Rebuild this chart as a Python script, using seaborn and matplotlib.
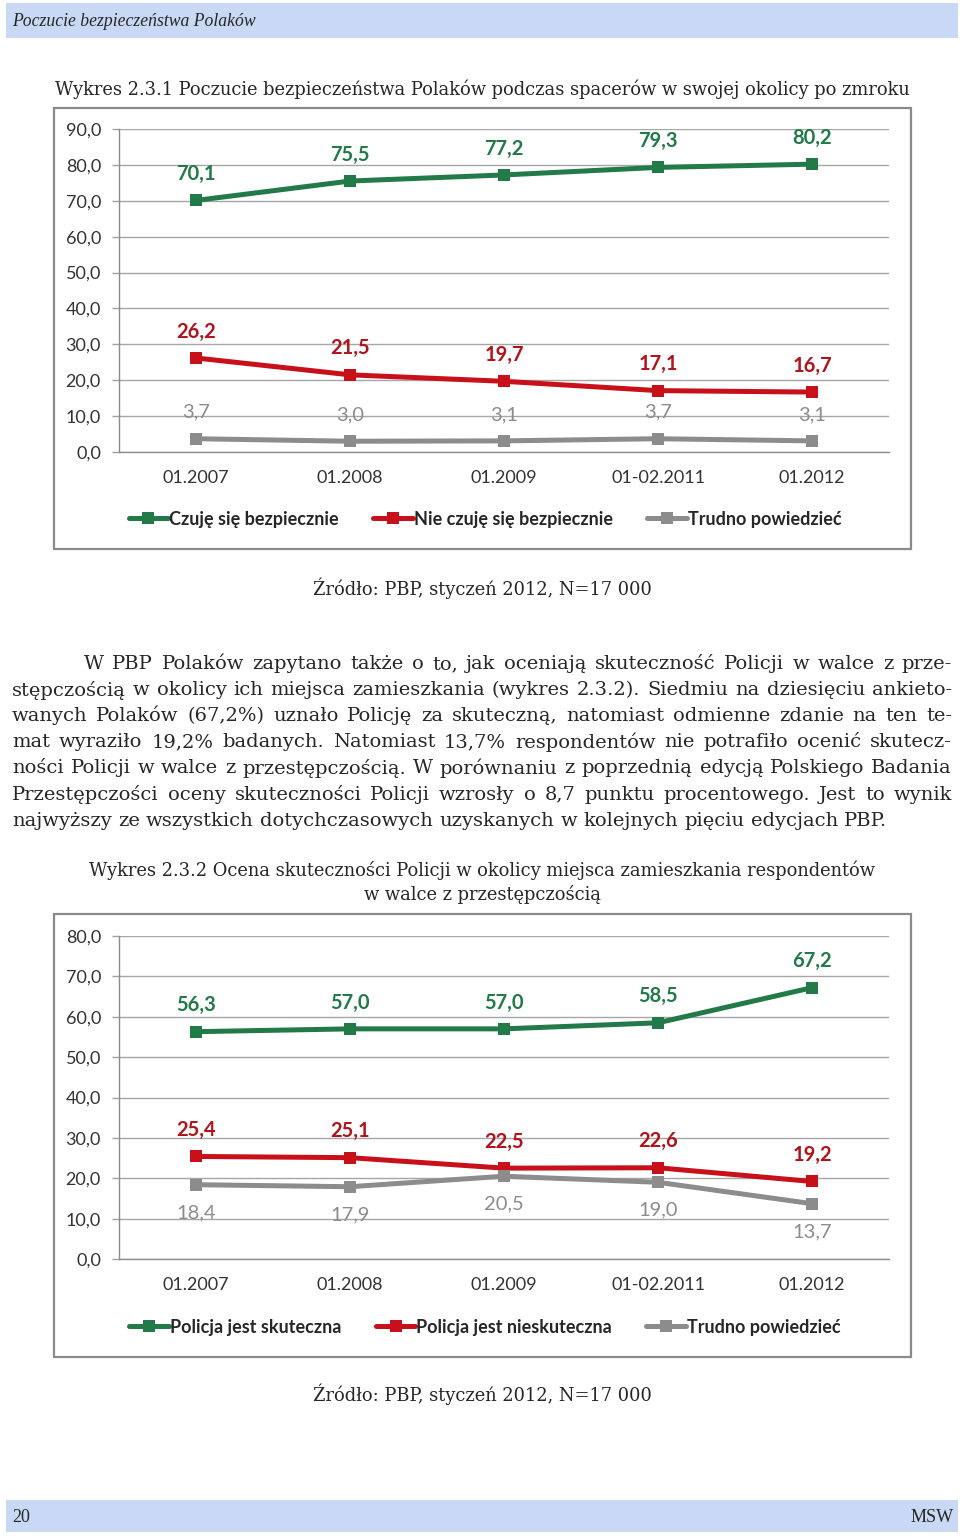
import numpy as np
import pandas as pd
import matplotlib
matplotlib.use("Agg")
import matplotlib.pyplot as plt
import seaborn as sns
from matplotlib.patches import Rectangle
from matplotlib.lines import Line2D

# dane
okresy = ["01.2007", "01.2008", "01.2009", "01-02.2011", "01.2012"]

bezp_tak = [70.1, 75.5, 77.2, 79.3, 80.2]
bezp_nie = [26.2, 21.5, 19.7, 17.1, 16.7]
bezp_trudno = [3.7, 3.0, 3.1, 3.7, 3.1]
serie1 = ["Czuję się bezpiecznie", "Nie czuję się bezpiecznie", "Trudno powiedzieć"]

pol_skut = [56.3, 57.0, 57.0, 58.5, 67.2]
pol_nieskut = [25.4, 25.1, 22.5, 22.6, 19.2]
pol_trudno = [18.4, 17.9, 20.5, 19.0, 13.7]
serie2 = ["Policja jest skuteczna", "Policja jest nieskuteczna", "Trudno powiedzieć"]

kolory = ["#217a48", "#c8101a", "#8c8c8c"]
kolory_etykiet = ["#217a48", "#b3121b", "#8c8c8c"]

naglowek = "Poczucie bezpieczeństwa Polaków"
tytul1 = "Wykres 2.3.1 Poczucie bezpieczeństwa Polaków podczas spacerów w swojej okolicy po zmroku"
tytul2 = ["Wykres 2.3.2 Ocena skuteczności Policji w okolicy miejsca zamieszkania respondentów",
          "w walce z przestępczością"]
zrodlo = "Źródło: PBP, styczeń 2012, N=17 000"
akapit = [
    "W PBP Polaków zapytano także o to, jak oceniają skuteczność Policji w walce z prze-",
    "stępczością w okolicy ich miejsca zamieszkania (wykres 2.3.2). Siedmiu na dziesięciu ankieto-",
    "wanych Polaków (67,2%) uznało Policję za skuteczną, natomiast odmienne zdanie na ten te-",
    "mat wyraziło 19,2% badanych. Natomiast 13,7% respondentów nie potrafiło ocenić skutecz-",
    "ności Policji w walce z przestępczością. W porównaniu z poprzednią edycją Polskiego Badania",
    "Przestępczości oceny skuteczności Policji wzrosły o 8,7 punktu procentowego. Jest to wynik",
    "najwyższy ze wszystkich dotychczasowych uzyskanych w kolejnych pięciu edycjach PBP.",
]

sns.set_style("white")
SANS = ["Lato", "DejaVu Sans"]
SERIF = ["DejaVu Serif"]
TIMES = ["Liberation Serif", "DejaVu Serif"]

W, H = 960, 1538
fig = plt.figure(figsize=(W / 100, H / 100), dpi=100)


def fx(x):
    return x / W


def fy(y):
    return 1 - y / H


def fmt(v):
    return f"{v:.1f}".replace(".", ",")


def wykres(top, bottom, ymax, nazwy, serie, przesuniecia, leg_y, ramka):
    fig.add_artist(Rectangle((fx(54), fy(ramka[1])), (911 - 54) / W, (ramka[1] - ramka[0]) / H,
                             transform=fig.transFigure, fill=False, ec="#8a8a8a", lw=1.6))
    ax = fig.add_axes([fx(119), fy(bottom), (889 - 119) / W, (bottom - top) / H])
    rows = []
    for nazwa, wart in zip(nazwy, serie):
        for i, v in enumerate(wart):
            rows.append((i, v, nazwa))
    df = pd.DataFrame(rows, columns=["x", "v", "seria"])
    sns.lineplot(data=df, x="x", y="v", hue="seria", hue_order=nazwy, palette=kolory,
                 marker="s", markersize=8, markeredgewidth=0, linewidth=3.6,
                 legend=False, ax=ax)

    for wart, kol, (off, waga) in zip(serie, kolory_etykiet, przesuniecia):
        for i, v in enumerate(wart):
            ax.annotate(fmt(v), (i, v), xytext=(0, off), textcoords="offset points",
                        ha="center", va="center", color=kol, fontsize=14.5,
                        fontweight=waga, family=SANS)

    ax.set_xlim(-0.5, 4.5)
    ax.set_ylim(0, ymax)
    yt = np.arange(0, ymax + 1, 10)
    ax.set_yticks(yt)
    ax.set_yticklabels([fmt(v) for v in yt], family=SANS, fontsize=13, color="#333333")
    ax.set_xticks(range(len(okresy)))
    ax.set_xticklabels(okresy, family=SANS, fontsize=13, color="#333333")
    ax.set_xticks(np.arange(-0.5, len(okresy), 1), minor=True)
    ax.tick_params(axis="x", which="major", length=0, pad=13)
    ax.tick_params(axis="x", which="minor", length=6, color="#8c8c8c", width=1)
    ax.tick_params(axis="y", length=5, color="#a0a0a0", width=1, pad=8, left=True)
    ax.grid(axis="y", color="#a6a6a6", lw=1)
    ax.grid(axis="x", visible=False)
    ax.set_axisbelow(True)
    for s in ["top", "right"]:
        ax.spines[s].set_visible(False)
    for s in ["left", "bottom"]:
        ax.spines[s].set_color("#8c8c8c")
        ax.spines[s].set_linewidth(1)
    ax.set_xlabel("")
    ax.set_ylabel("")

    uchwyty = [Line2D([], [], color=k, lw=3.6, marker="s", markersize=8, markeredgewidth=0)
               for k in kolory]
    fig.legend(uchwyty, nazwy, loc="center", bbox_to_anchor=(fx(485), fy(leg_y)), ncol=3,
               frameon=False, handlelength=2.2, handletextpad=0.05, columnspacing=1.9,
               prop=dict(family=SANS, weight="bold", size=13))


# pasek naglowka i stopki
fig.add_artist(Rectangle((fx(6), fy(38)), (958 - 6) / W, 35 / H, transform=fig.transFigure,
                         color="#c9d8f4", lw=0))
fig.text(fx(12), fy(21), naglowek, family=TIMES, style="italic", fontsize=12.7, va="center")
fig.add_artist(Rectangle((fx(6), fy(1532)), (958 - 6) / W, 32 / H, transform=fig.transFigure,
                         color="#c9d8f4", lw=0))
fig.text(fx(12), fy(1518), "20", family=TIMES, fontsize=13, va="center")
fig.text(fx(954), fy(1518), "MSW", family=TIMES, fontsize=13, va="center", ha="right")

# wykres 1
fig.text(fx(482), fy(89), tytul1, family=SERIF, fontsize=12.85, ha="center", va="center")
wykres(129, 452, 90, serie1, [bezp_tak, bezp_nie, bezp_trudno],
       [(19, "bold"), (19, "bold"), (19, "normal")], 519, (108, 549))
fig.text(fx(482), fy(588), zrodlo, family=SERIF, fontsize=12.85, ha="center", va="center")

# akapit wyjustowany: rozmiar czcionki dobrany tak, by najdluzszy wiersz miescil sie w szpalcie
r = fig.canvas.get_renderer()
rozmiar = 12.0
proby = [fig.text(0, 0, l, family=SERIF, fontsize=rozmiar) for l in akapit[1:-1]]
najdl = max(t.get_window_extent(r).width for t in proby)
for t in proby:
    t.remove()
rozmiar = rozmiar * 940 * 0.985 / najdl

probka = [fig.text(0, 0, s, family=SERIF, fontsize=rozmiar) for s in ["x x", "xx"]]
spacja = probka[0].get_window_extent(r).width - probka[1].get_window_extent(r).width
for t in probka:
    t.remove()
for n, linia in enumerate(akapit):
    y = fy(664 + n * 26.1)
    start = 84 if n == 0 else 12
    slowa = linia.split(" ")
    teksty = [fig.text(0, y, s, family=SERIF, fontsize=rozmiar, va="center") for s in slowa]
    szer = [t.get_window_extent(r).width for t in teksty]
    if n == len(akapit) - 1:
        odstep = spacja
    else:
        odstep = (952 - start - sum(szer)) / (len(slowa) - 1)
    x = start
    for t, w in zip(teksty, szer):
        t.set_x(fx(x))
        x += w + odstep

# wykres 2
fig.text(fx(482), fy(870), tytul2[0], family=SERIF, fontsize=12.85, ha="center", va="center")
fig.text(fx(482), fy(894), tytul2[1], family=SERIF, fontsize=12.85, ha="center", va="center")
wykres(936, 1259, 80, serie2, [pol_skut, pol_nieskut, pol_trudno],
       [(19, "bold"), (19, "bold"), (-20, "normal")], 1327, (914, 1357))
fig.text(fx(482), fy(1394), zrodlo, family=SERIF, fontsize=12.85, ha="center", va="center")

fig.savefig("out.png", dpi=100)
